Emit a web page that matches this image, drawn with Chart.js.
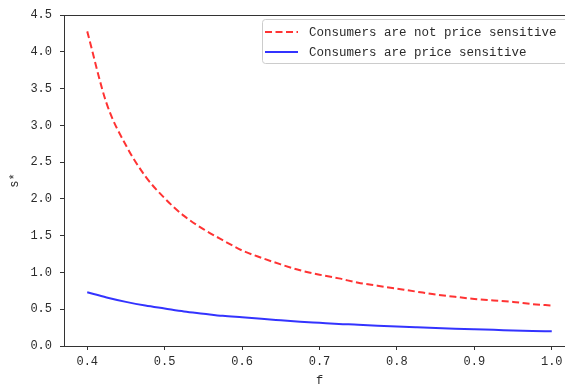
<!DOCTYPE html>
<html>
<head>
<meta charset="utf-8">
<script src="https://cdn.jsdelivr.net/npm/chart.js@4"></script>
<style>
  html, body { margin: 0; padding: 0; background: #fff; overflow: hidden; }
  #wrap { width: 565px; height: 389px; overflow: hidden; position: relative; }
  #chart { position: absolute; left: 0; top: 0; }
</style>
</head>
<body>
<div id="wrap"><canvas id="chart" width="600" height="389"></canvas></div>
<script>
// values
const fValues = [0.400, 0.425, 0.450, 0.475, 0.500, 0.525, 0.550, 0.575, 0.600, 0.625,
  0.650, 0.675, 0.700, 0.725, 0.750, 0.775, 0.800, 0.825, 0.850, 0.875,
  0.900, 0.925, 0.950, 0.975, 1.000];
const notSensitive = [4.28, 3.30, 2.73, 2.31, 2.01, 1.77, 1.59, 1.44, 1.30, 1.20,
  1.11, 1.03, 0.97, 0.92, 0.86, 0.82, 0.78, 0.74, 0.70, 0.67,
  0.64, 0.62, 0.60, 0.57, 0.55];
const sensitive = [0.73, 0.66, 0.60, 0.55, 0.51, 0.47, 0.44, 0.41, 0.39, 0.37,
  0.35, 0.33, 0.315, 0.30, 0.29, 0.275, 0.265, 0.255, 0.245, 0.235,
  0.227, 0.22, 0.212, 0.205, 0.20];
const xTicks = [0.4, 0.5, 0.6, 0.7, 0.8, 0.9, 1.0];
const yTicks = [0.0, 0.5, 1.0, 1.5, 2.0, 2.5, 3.0, 3.5, 4.0, 4.5];
const seriesLabels = ["Consumers are not price sensitive", "Consumers are price sensitive"];

const toPoints = (ys) => fValues.map((f, i) => ({ x: f, y: ys[i] }));

const tickFont = { family: "'Liberation Mono', 'DejaVu Sans Mono', monospace", size: 12 };
const textColor = "#2b2b2b";
const spineColor = "#333333";

// box around the plot + legend inside the upper right corner
const framePlugin = {
  id: "frame",
  afterDraw(chart) {
    const { ctx, chartArea: a } = chart;
    ctx.save();
    ctx.strokeStyle = spineColor;
    ctx.lineWidth = 1;
    ctx.strokeRect(Math.round(a.left) + 0.5, Math.round(a.top) + 0.5,
      Math.round(a.right - a.left), Math.round(a.bottom - a.top));

    // legend
    const bx = 262, by = 19, bw = 310, bh = 44;
    ctx.fillStyle = "rgba(255,255,255,0.8)";
    ctx.strokeStyle = "#cccccc";
    ctx.beginPath();
    ctx.roundRect(bx + 0.5, by + 0.5, bw, bh, 3);
    ctx.fill();
    ctx.stroke();
    const rows = [32, 52];
    ctx.font = "12.5px 'Liberation Mono', 'DejaVu Sans Mono', monospace";
    ctx.textBaseline = "middle";
    chart.data.datasets.forEach((ds, i) => {
      ctx.strokeStyle = ds.borderColor;
      ctx.lineWidth = ds.borderWidth;
      ctx.setLineDash(ds.borderDash || []);
      ctx.beginPath();
      ctx.moveTo(265, rows[i]);
      ctx.lineTo(298, rows[i]);
      ctx.stroke();
      ctx.setLineDash([]);
      ctx.fillStyle = textColor;
      ctx.fillText(ds.label, 309, rows[i] + 1);
    });
    ctx.restore();
  },
};

new Chart(document.getElementById("chart"), {
  type: "line",
  data: {
    datasets: [
      {
        label: seriesLabels[0],
        data: toPoints(notSensitive),
        borderColor: "rgba(255,0,0,0.8)",
        borderWidth: 2,
        borderDash: [7, 3.5],
        pointRadius: 0,
        cubicInterpolationMode: "monotone",
      },
      {
        label: seriesLabels[1],
        data: toPoints(sensitive),
        borderColor: "rgba(0,0,255,0.8)",
        borderWidth: 2,
        pointRadius: 0,
        cubicInterpolationMode: "monotone",
      },
    ],
  },
  options: {
    responsive: false,
    animation: false,
    layout: { padding: { top: 12, right: 25, left: 0, bottom: 0 } },
    plugins: { legend: { display: false }, tooltip: { enabled: false } },
    scales: {
      x: {
        type: "linear",
        min: 0.37,
        max: 1.03,
        afterBuildTicks: (s) => { s.ticks = xTicks.map((v) => ({ value: v })); },
        afterFit: (s) => { s.height = 43; },
        ticks: {
          font: tickFont,
          color: textColor,
          padding: 5,
          maxRotation: 0,
          callback: (v) => Number(v).toFixed(1),
        },
        grid: { drawOnChartArea: false, drawTicks: true, tickLength: 4, color: spineColor },
        border: { display: true, color: spineColor },
        title: {
          display: true,
          text: "f",
          font: tickFont,
          color: textColor,
          padding: { top: 0, bottom: 1 },
        },
      },
      y: {
        min: 0,
        max: 4.5,
        afterBuildTicks: (s) => { s.ticks = yTicks.map((v) => ({ value: v })); },
        afterFit: (s) => { s.width = 64; },
        ticks: {
          font: tickFont,
          color: textColor,
          padding: 8,
          callback: (v) => Number(v).toFixed(1),
        },
        grid: { drawOnChartArea: false, drawTicks: true, tickLength: 4, color: spineColor },
        border: { display: true, color: spineColor },
        title: {
          display: true,
          text: "s*",
          font: tickFont,
          color: textColor,
          padding: { top: 8, bottom: 0 },
        },
      },
    },
  },
  plugins: [framePlugin],
});
</script>
</body>
</html>
